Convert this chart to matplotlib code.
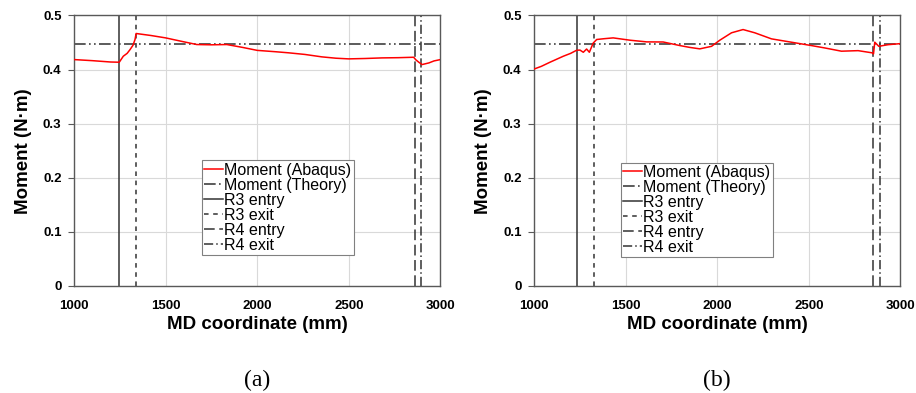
import matplotlib.pyplot as plt
import numpy as np

plt.rcParams["font.family"] = ["Liberation Sans", "DejaVu Sans"]

# (a) Abaqus moment along MD
md_a = [1000, 1100, 1200, 1247, 1269, 1290, 1306, 1322, 1333, 1339, 1420, 1500, 1590,
        1670, 1750, 1834, 1920, 2000, 2100, 2171, 2260, 2353, 2430, 2499, 2590, 2681,
        2770, 2854, 2866, 2882, 2900, 2937, 2965, 3000]
moment_a = [0.4185, 0.4165, 0.414, 0.4136, 0.4247, 0.430, 0.437, 0.445, 0.4556, 0.4667,
            0.463, 0.4586, 0.452, 0.4463, 0.4458, 0.4463, 0.441, 0.4355, 0.433, 0.431,
            0.428, 0.4235, 0.421, 0.4198, 0.4205, 0.4216, 0.422, 0.4228, 0.418, 0.4136,
            0.4093, 0.4123, 0.416, 0.4185]

# (b)
md_b = [1000, 1040, 1087, 1160, 1200, 1233, 1251, 1269, 1287, 1302, 1323, 1342, 1380,
        1432, 1524, 1615, 1705, 1796, 1850, 1905, 1969, 2014, 2078, 2141, 2205, 2296,
        2405, 2514, 2587, 2678, 2769, 2845, 2853, 2860, 2882, 2932, 3000]
moment_b = [0.401, 0.406, 0.4136, 0.4247, 0.430, 0.4358, 0.436, 0.432, 0.438, 0.432,
            0.449, 0.4556, 0.457, 0.4586, 0.4543, 0.4512, 0.451, 0.4444, 0.441, 0.4383,
            0.443, 0.4543, 0.468, 0.474, 0.468, 0.4568, 0.4506, 0.4444, 0.440, 0.434,
            0.435, 0.431, 0.429, 0.4506, 0.443, 0.446, 0.448]

theory = 0.448

# roll entry / exit positions (mm)
r3_entry = [1247, 1235]
r3_exit = [1337, 1329]
r4_entry = [2860, 2853]
r4_exit = [2894, 2887]

panels = [(md_a, moment_a), (md_b, moment_b)]
captions = ["(a)", "(b)"]
ax_lefts = [0.0808, 0.583]
legend_boxes = [(0.349, 0.114), (0.237, 0.106)]

fig = plt.figure(figsize=(9.16, 3.93), dpi=100)

dark = "#333333"
for i, (md, mom) in enumerate(panels):
    ax = fig.add_axes([ax_lefts[i], 0.2723, 0.4, 0.6883])
    ax.plot(md, mom, color="#ff0000", lw=1.1, label="Moment (Abaqus)", zorder=5)
    ax.axhline(theory, color="#404040", lw=1.2, dashes=(7, 2, 1, 2, 1, 2),
               label="Moment (Theory)")
    ax.axvline(r3_entry[i], color=dark, lw=1.1, label="R3 entry")
    ax.axvline(r3_exit[i], color=dark, lw=1.1, dashes=(3, 3), label="R3 exit")
    ax.axvline(r4_entry[i], color=dark, lw=1.1, dashes=(7, 3), label="R4 entry")
    ax.axvline(r4_exit[i], color=dark, lw=1.1, dashes=(6, 2, 1, 2), label="R4 exit")

    ax.set_xlim(1000, 3000)
    ax.set_ylim(0, 0.5)
    ax.set_xticks([1000, 1500, 2000, 2500, 3000])
    ax.set_yticks([0, 0.1, 0.2, 0.3, 0.4, 0.5])
    ax.set_yticklabels(["0", "0.1", "0.2", "0.3", "0.4", "0.5"])
    ax.grid(True, color="#d9d9d9", lw=0.8)
    ax.set_axisbelow(True)
    for s in ax.spines.values():
        s.set_color("#595959")
        s.set_linewidth(1.0)
    ax.tick_params(axis="y", length=4, color="#595959", labelsize=9.5, pad=5)
    ax.tick_params(axis="x", length=0, labelsize=9.5, pad=10)
    for lab in ax.get_xticklabels() + ax.get_yticklabels():
        lab.set_fontweight("bold")
    ax.set_xlabel("MD coordinate (mm)", fontsize=13.5, fontweight="bold", labelpad=3)
    ax.set_ylabel("Moment (N·m)", fontsize=13.5, fontweight="bold", labelpad=8)

    leg = ax.legend(loc="lower left", bbox_to_anchor=legend_boxes[i], fontsize=11.5,
                    handlelength=1.2, handletextpad=0.05, labelspacing=0.0,
                    borderpad=0.15, borderaxespad=0, fancybox=False, framealpha=1)
    leg.get_frame().set_edgecolor("#808080")
    leg.get_frame().set_linewidth(0.8)

    fig.text(ax_lefts[i] + 0.2, 0.033, captions[i],
             fontsize=17, family=["Liberation Serif", "DejaVu Serif"],
             ha="center", va="center")

fig.savefig("out.png", dpi=100)
